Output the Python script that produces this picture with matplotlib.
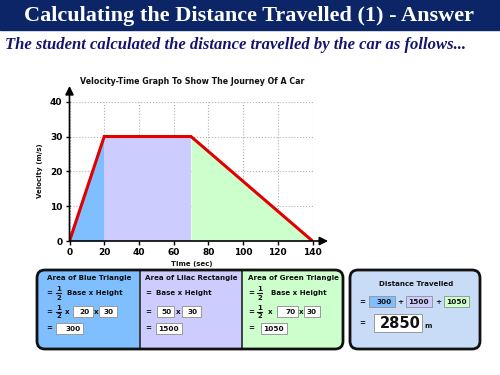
import matplotlib
matplotlib.use("Agg")
import matplotlib.pyplot as plt
from matplotlib.patches import Rectangle, FancyBboxPatch

# ---- data ----
times = [0, 20, 70, 140]
velocities = [0, 30, 30, 0]
x_ticks = [0, 20, 40, 60, 80, 100, 120, 140]
y_ticks = [0, 10, 20, 30, 40]
region_colors = ["#80bfff", "#ccccff", "#ccffcc"]
region_names = ["Area of Blue Triangle", "Area of Lilac Rectangle", "Area of Green Triangle"]

blue_base, blue_height = times[1] - times[0], velocities[1]
lilac_base, lilac_height = times[2] - times[1], velocities[2]
green_base, green_height = times[3] - times[2], velocities[2]
blue_area = blue_base * blue_height // 2
lilac_area = lilac_base * lilac_height
green_area = green_base * green_height // 2
total = blue_area + lilac_area + green_area

W, H = 500, 375
fig = plt.figure(figsize=(5, 3.75), dpi=100)
bg = fig.add_axes([0, 0, 1, 1])
bg.set_xlim(0, W)
bg.set_ylim(H, 0)
bg.axis("off")

NAVY = "#0b2566"
# header
bg.add_patch(Rectangle((0, 0), W, 30, color=NAVY, zorder=1))
bg.text(249, 15.5, "Calculating the Distance Travelled (1) - Answer", color="white",
        family="Liberation Serif", weight="bold", fontsize=16, ha="center", va="center", zorder=2)
bg.text(5, 45, "The student calculated the distance travelled by the car as follows...",
        color="#14146e", family="Liberation Serif", weight="bold", style="italic",
        fontsize=12, ha="left", va="center")

# ---- chart ----
x0p, x1p = 69.5, 312.5
y0p, y1p = 241, 101.7
ax = fig.add_axes([x0p / W, 1 - y0p / H, (x1p - x0p) / W, (y0p - y1p) / H])
ax.set_xlim(0, 140)
ax.set_ylim(0, 40)
for i in range(3):
    ax.fill_between(times[i:i + 2], velocities[i:i + 2], color=region_colors[i], lw=0, zorder=1)
ax.plot(times, velocities, color="#e00000", lw=2.2, zorder=3, solid_joinstyle="miter")
ax.set_xticks(x_ticks)
ax.set_yticks(y_ticks)
ax.grid(True, linestyle=":", color="#b0b0b0", lw=0.8, zorder=0)
ax.set_axisbelow(True)
for s in ax.spines.values():
    s.set_visible(False)
ax.tick_params(direction="out", length=3, width=1, labelsize=6.5, pad=2)
for lab in ax.get_xticklabels() + ax.get_yticklabels():
    lab.set_fontweight("bold")
ax.annotate("", xy=(149, 0), xytext=(0, 0), annotation_clip=False,
            arrowprops=dict(arrowstyle="-|>,head_length=0.5,head_width=0.25", color="black", lw=1.2, shrinkA=0, shrinkB=0), zorder=4)
ax.annotate("", xy=(0, 44.5), xytext=(0, 0), annotation_clip=False,
            arrowprops=dict(arrowstyle="-|>,head_length=0.5,head_width=0.25", color="black", lw=1.2, shrinkA=0, shrinkB=0), zorder=4)
ax.patch.set_alpha(0)

bg.text(192, 81, "Velocity-Time Graph To Show The Journey Of A Car", fontsize=5.7,
        weight="bold", ha="center", va="center", color="#111111")
bg.text(40, 171, "Velocity (m/s)", fontsize=5, weight="bold", rotation=90,
        ha="center", va="center", color="#111111")
bg.text(192, 264, "Time (sec)", fontsize=5, weight="bold", ha="center", va="center", color="#111111")

# ---- bottom panels ----
FS = 5.1
NFS = 5.3
outer = FancyBboxPatch((37, 270), 306, 79, boxstyle="round,pad=0,rounding_size=8",
                       fc="none", ec="#111111", lw=2, zorder=5)
bg.add_patch(outer)
edges = [37, 140, 242, 343]
for i in range(3):
    r = Rectangle((edges[i], 270), edges[i + 1] - edges[i], 79, fc=region_colors[i], ec="none", zorder=2)
    bg.add_patch(r)
    r.set_clip_path(outer)
for xd in (140, 242):
    bg.plot([xd, xd], [270, 349], color="#333333", lw=1.3, zorder=4)

dist = FancyBboxPatch((350, 270), 130, 79, boxstyle="round,pad=0,rounding_size=8",
                      fc="#c8dcf8", ec="#111111", lw=2, zorder=5)
bg.add_patch(dist)


def t(x, y, s, fs=FS, ha="left", **kw):
    bg.text(x, y, s, fontsize=fs, weight="bold", ha=ha, va="center", color="#111111", zorder=7, **kw)


def half(x, y):
    t(x, y - 4.0, "1", fs=5, ha="center")
    t(x, y + 4.3, "2", fs=5, ha="center")
    bg.plot([x - 2.3, x + 2.3], [y, y], color="#111111", lw=0.8, zorder=7)


def nbox(xa, xb, y, s, fc="white", h=11, fs=NFS):
    bg.add_patch(Rectangle((xa, y - h / 2), xb - xa, h, fc=fc, ec="#999999", lw=0.7, zorder=6))
    t(xb - 3, y + 0.3, s, fs=fs, ha="right")


r1, r2, r3, r4 = 278.3, 293.3, 311.7, 328.3
# blue
t(88.7, r1, region_names[0], ha="center")
t(46, r2, "=")
half(58.5, r2)
t(66.7, r2, "Base x Height")
t(46, r3, "=")
half(58.5, r3)
t(65, r3, "x")
nbox(72.7, 92.7, r3, str(blue_base))
t(95.8, r3, "x", ha="center")
nbox(99, 116.7, r3, str(blue_height))
t(46, r4, "=")
nbox(56, 83.3, r4, str(blue_area))
# lilac
t(191, r1, region_names[1], ha="center")
t(145, r2, "=")
t(156, r2, "Base x Height")
t(145, r3, "=")
nbox(156.7, 174.3, r3, str(lilac_base))
t(178.3, r3, "x", ha="center")
nbox(182.3, 201, r3, str(lilac_height))
t(145, r4, "=")
nbox(156, 181.7, r4, str(lilac_area))
# green
t(293.3, r1, region_names[2], ha="center")
t(248, r2, "=")
half(259.5, r2)
t(271, r2, "Base x Height")
t(248, r3, "=")
half(259.5, r3)
t(267.5, r3, "x")
nbox(277.3, 298.3, r3, str(green_base))
t(301.2, r3, "x", ha="center")
nbox(304, 320, r3, str(green_height))
t(248, r4, "=")
nbox(261.3, 286.7, r4, str(green_area))
# distance
t(415.7, 284, "Distance Travelled", ha="center")
t(359.5, 301.7, "=")
nbox(369.3, 395, 301.7, str(blue_area), fc=region_colors[0])
t(400.5, 301.7, "+", ha="center")
nbox(406, 431.7, 301.7, str(lilac_area), fc=region_colors[1])
t(437.8, 301.7, "+", ha="center")
nbox(444, 469.3, 301.7, str(green_area), fc=region_colors[2])
t(359.5, 323, "=")
bg.add_patch(Rectangle((374.3, 314), 48, 18, fc="white", ec="#999999", lw=0.7, zorder=6))
t(420.5, 323.5, str(total), fs=10.5, ha="right")
t(424.5, 325.5, "m", fs=5)

fig.savefig("out.png", dpi=100)
